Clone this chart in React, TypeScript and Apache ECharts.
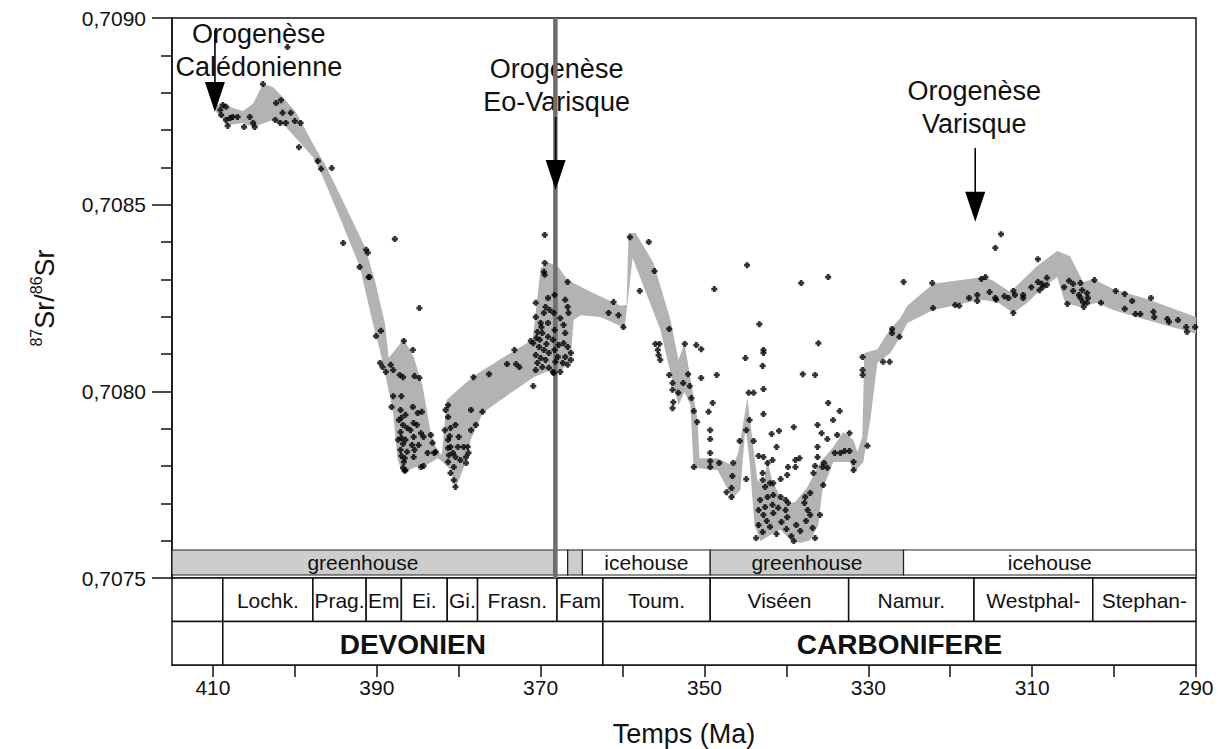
import React, { useEffect, useRef } from 'react';
import * as echarts from 'echarts';

const FONT = '"Liberation Sans", Arial, Helvetica, sans-serif';
const INK = '#111';

// Grey envelope of the 87Sr/86Sr curve: [age Ma, ratio]
const bandUpper: [number, number][] = [
  [409.63, 0.708767], [408.78, 0.70877], [407.56, 0.708759], [406.34, 0.708751], [405.12, 0.70877],
  [403.9, 0.708823], [402.68, 0.708815], [401.46, 0.708788], [399.88, 0.708748], [397.44, 0.708649],
  [396.22, 0.708604], [393.78, 0.708494], [391.46, 0.708387], [390.24, 0.708298], [389.02, 0.708183],
  [388.54, 0.708089], [386.71, 0.70814], [385.49, 0.708092], [384.39, 0.708012], [383.41, 0.707888],
  [382.56, 0.707838], [382.07, 0.70783], [381.46, 0.707977], [381.22, 0.707982], [378.17, 0.708041],
  [373.66, 0.708103], [370.98, 0.708138], [370.0, 0.70833], [369.15, 0.708346], [367.93, 0.708336],
  [366.71, 0.708298], [364.27, 0.708271], [361.83, 0.708245], [360.24, 0.708229], [359.51, 0.708231],
  [359.27, 0.708424], [358.41, 0.708424], [356.22, 0.708344], [354.15, 0.708191], [353.17, 0.708084],
  [352.44, 0.708129], [351.83, 0.708049], [350.85, 0.707923], [350.61, 0.707821], [348.41, 0.707821],
  [346.46, 0.7078], [345.85, 0.707838], [344.76, 0.707982], [344.15, 0.70787], [343.54, 0.707762],
  [342.8, 0.707749], [342.32, 0.707816], [341.71, 0.707757], [340.12, 0.707696], [338.9, 0.707704],
  [337.44, 0.707744], [335.85, 0.707811], [334.27, 0.707851], [333.05, 0.707891], [331.83, 0.70787],
  [331.34, 0.707838], [330.73, 0.707878], [330.49, 0.708103], [328.9, 0.708113], [327.32, 0.708167],
  [326.1, 0.708196], [325.24, 0.708229], [322.07, 0.708288], [315.98, 0.708306], [314.76, 0.708296],
  [312.68, 0.708266], [309.39, 0.708336], [306.95, 0.708376], [305.37, 0.708362], [303.78, 0.708293],
  [302.56, 0.708301], [300.12, 0.708274], [295.98, 0.708247], [290.0, 0.708199],
];
const bandLower: [number, number][] = [
  [409.63, 0.708748], [409.15, 0.708738], [408.41, 0.708713], [406.34, 0.708719], [405.12, 0.708708],
  [402.68, 0.708727], [401.1, 0.708708], [397.8, 0.708628], [396.95, 0.708593], [394.39, 0.708459],
  [392.07, 0.708333], [390.49, 0.708183], [389.63, 0.708111], [388.9, 0.708038], [388.05, 0.70795],
  [387.44, 0.707816], [386.83, 0.707781], [385.49, 0.707795], [383.78, 0.707805], [382.56, 0.707821],
  [382.07, 0.707813], [380.98, 0.707789], [380.37, 0.707741], [379.39, 0.707795], [378.54, 0.70787],
  [377.07, 0.707942], [374.88, 0.707977], [370.85, 0.708038], [369.15, 0.708054], [367.56, 0.708054],
  [366.34, 0.708084], [365.98, 0.708191], [365.12, 0.708204], [362.68, 0.708199], [360.24, 0.708175],
  [359.76, 0.708167], [358.78, 0.708357], [355.37, 0.708164], [354.15, 0.708049], [353.17, 0.707963],
  [352.44, 0.707998], [351.71, 0.707963], [351.34, 0.707795], [348.41, 0.707789], [347.44, 0.707749],
  [346.59, 0.707714], [345.61, 0.707736], [345.0, 0.707904], [344.51, 0.707816], [343.9, 0.707642],
  [343.17, 0.707599], [341.95, 0.707615], [340.73, 0.707629], [339.51, 0.707602], [338.29, 0.707594],
  [337.07, 0.707602], [336.1, 0.707642], [335.61, 0.707736], [334.27, 0.707811], [332.2, 0.707811],
  [331.83, 0.707781], [330.61, 0.707811], [329.76, 0.707923], [328.9, 0.708076], [327.32, 0.708103],
  [326.1, 0.708146], [325.24, 0.708183], [322.07, 0.708218], [316.34, 0.708245], [314.27, 0.708239],
  [312.32, 0.70821], [310.61, 0.708237], [309.02, 0.708271], [306.95, 0.708306], [305.98, 0.708237],
  [304.15, 0.708226], [302.07, 0.708237], [300.12, 0.708218], [295.98, 0.708191], [290.0, 0.708154],
];

// Individual measurements
const devonianPoints: [number, number][] = [
  [408.8, 0.708767], [409.1, 0.708754], [408.4, 0.708762], [409.0, 0.70874], [408.4, 0.708727],
  [407.9, 0.708732], [407.6, 0.708735], [407.0, 0.708735], [408.2, 0.708711], [406.2, 0.708708],
  [405.5, 0.708735], [405.1, 0.708719], [404.9, 0.708708], [403.9, 0.708823], [402.3, 0.708772],
  [401.7, 0.70878], [401.5, 0.708746], [400.5, 0.708746], [402.4, 0.708727], [401.8, 0.708719],
  [401.1, 0.708719], [400.0, 0.708724], [399.3, 0.708719], [399.5, 0.708654], [397.2, 0.708617],
  [396.8, 0.708596], [395.5, 0.708598], [394.1, 0.708397], [391.3, 0.708379], [391.1, 0.708371],
  [392.1, 0.708333], [391.0, 0.708306], [390.9, 0.708306], [387.8, 0.708408], [384.8, 0.708223],
  [390.1, 0.708148], [389.5, 0.708162], [389.6, 0.708076], [389.3, 0.708065], [388.9, 0.708052],
  [388.3, 0.708071], [388.0, 0.708057], [387.2, 0.708044], [386.8, 0.708038], [386.7, 0.708135],
  [385.6, 0.708111], [385.4, 0.708041], [384.8, 0.708036], [388.0, 0.707987], [387.0, 0.707987],
  [388.2, 0.707958], [385.6, 0.707958], [400.9, 0.708922],
  [387.1, 0.70795], [387.0, 0.707929], [386.8, 0.70791], [387.1, 0.707891], [387.0, 0.707875],
  [386.8, 0.707859], [387.1, 0.707843], [387.0, 0.707827], [386.7, 0.707811], [386.8, 0.707795],
  [386.6, 0.707787], [386.5, 0.707937], [386.3, 0.707902], [386.5, 0.70787], [386.3, 0.707838],
  [386.6, 0.707821], [385.0, 0.707942], [384.5, 0.707945], [385.5, 0.707915], [385.9, 0.707896],
  [385.5, 0.707878], [385.7, 0.707856], [385.4, 0.707843], [385.5, 0.707824], [384.6, 0.707888],
  [384.3, 0.707878], [384.9, 0.707856], [385.1, 0.70791], [383.4, 0.707883], [383.2, 0.707862],
  [383.8, 0.707835], [383.0, 0.707835], [382.8, 0.707838], [384.6, 0.707797], [384.3, 0.7078],
  [386.5, 0.707789], [387.3, 0.707923], [387.4, 0.70787],
  [381.3, 0.707963], [381.6, 0.70795], [381.3, 0.707931], [381.0, 0.707902], [380.4, 0.70791],
  [381.3, 0.70787], [381.3, 0.707848], [381.2, 0.707829], [381.3, 0.707811], [381.0, 0.707851],
  [380.7, 0.707835], [380.4, 0.707824], [380.1, 0.707851], [380.6, 0.707797], [381.0, 0.707781],
  [380.6, 0.707762], [380.4, 0.707744], [379.4, 0.707851], [379.1, 0.707824], [378.9, 0.707851],
  [378.8, 0.707835], [379.1, 0.707808], [378.5, 0.70795], [378.5, 0.707896], [377.9, 0.70791],
  [377.1, 0.707945], [378.2, 0.708038], [376.3, 0.708046], [374.1, 0.708073], [373.2, 0.708111],
  [373.0, 0.708073], [372.6, 0.708065], [370.9, 0.708014], [371.2, 0.708135], [381.7, 0.707896],
  [381.1, 0.70788], [380.0, 0.707878], [379.8, 0.707816],
  [369.5, 0.708419], [369.5, 0.708344], [369.6, 0.70832], [369.5, 0.708312], [370.6, 0.708237],
  [369.1, 0.70825], [369.4, 0.708226], [369.6, 0.70821], [370.6, 0.708199], [370.0, 0.708183],
  [369.1, 0.708183], [370.4, 0.708159], [369.8, 0.708156], [369.1, 0.708146], [370.9, 0.708129],
  [370.2, 0.708119], [369.6, 0.708111], [369.0, 0.708103], [370.6, 0.708097], [370.0, 0.708089],
  [369.4, 0.708084], [370.4, 0.708076], [369.8, 0.708065], [369.0, 0.708063], [370.6, 0.708057],
  [368.5, 0.708052], [368.4, 0.708049], [368.3, 0.708258], [368.3, 0.708164], [368.3, 0.708111],
  [368.2, 0.708079], [367.6, 0.708052], [366.7, 0.708293], [367.0, 0.708245], [366.7, 0.708226],
  [366.6, 0.70821], [367.2, 0.708178], [367.0, 0.708156], [367.2, 0.708129], [366.7, 0.708119],
  [366.3, 0.708103], [367.0, 0.708092], [366.3, 0.708084], [367.3, 0.708076], [366.7, 0.708071],
  [368.4, 0.70821], [368.5, 0.708138], [367.9, 0.708092], [361.1, 0.708239], [361.7, 0.70821],
  [360.5, 0.708204], [370.1, 0.708138], [369.3, 0.708127], [369.9, 0.708172], [368.9, 0.708218],
  [367.6, 0.708196], [367.8, 0.708124], [370.5, 0.708143],
];
const carboniferousPoints: [number, number][] = [
  [359.9, 0.708172], [359.1, 0.708413], [356.8, 0.7084], [356.1, 0.708322], [357.9, 0.708269],
  [354.3, 0.708167], [356.0, 0.708127], [355.5, 0.708127], [355.7, 0.708111], [355.6, 0.708097],
  [355.4, 0.708084], [354.3, 0.708044], [353.9, 0.708022], [353.9, 0.708004], [353.8, 0.707971],
  [353.9, 0.707955], [353.2, 0.707996], [352.6, 0.708022], [352.0, 0.708046], [352.4, 0.708127],
  [351.8, 0.708014], [351.6, 0.707982], [351.3, 0.707947], [350.9, 0.707918], [351.0, 0.708124],
  [350.4, 0.708113], [350.4, 0.708036], [348.5, 0.708044], [349.0, 0.707969], [349.5, 0.707945],
  [351.3, 0.707797], [349.3, 0.707896], [349.3, 0.707872], [349.3, 0.707835], [349.3, 0.707813],
  [349.3, 0.707797], [348.2, 0.707808], [346.5, 0.707808], [346.6, 0.707773], [346.7, 0.707741],
  [347.3, 0.70773], [346.7, 0.707717], [345.7, 0.707867], [344.9, 0.707896], [344.5, 0.707923],
  [344.6, 0.707996], [344.0, 0.707996], [344.0, 0.707867], [344.9, 0.707765], [348.8, 0.708274],
  [344.8, 0.708338], [343.3, 0.70818], [342.8, 0.708111], [342.8, 0.708103], [345.0, 0.708089],
  [342.9, 0.708068], [342.8, 0.708006], [342.8, 0.707939], [341.8, 0.707886], [340.9, 0.707894],
  [339.1, 0.707904], [341.2, 0.707851], [343.4, 0.707827], [342.8, 0.707824], [342.3, 0.707808],
  [341.7, 0.707816], [342.9, 0.707781], [342.9, 0.707762], [342.6, 0.707744], [342.0, 0.707754],
  [341.6, 0.707754], [340.7, 0.707765], [342.3, 0.707717], [341.6, 0.707722], [340.7, 0.707717],
  [340.1, 0.707709], [339.8, 0.707701], [342.6, 0.70769], [341.7, 0.707696], [341.0, 0.707688],
  [340.1, 0.707682], [343.4, 0.707682], [342.8, 0.707669], [341.6, 0.707674], [339.9, 0.707663],
  [338.9, 0.707816], [338.4, 0.707821], [338.9, 0.707797], [339.8, 0.707797], [339.9, 0.707776],
  [337.7, 0.707717], [337.1, 0.707728], [337.8, 0.707701], [337.4, 0.707682], [336.7, 0.707781],
  [336.5, 0.7078], [335.6, 0.707797], [335.0, 0.707795], [335.4, 0.707808], [336.2, 0.707824],
  [336.2, 0.707851], [336.2, 0.70791], [335.7, 0.707888], [335.0, 0.707872], [334.9, 0.707969],
  [333.5, 0.707947], [334.3, 0.707923], [333.8, 0.707883], [332.3, 0.707888], [334.1, 0.707835],
  [333.4, 0.707835], [332.9, 0.70784], [332.3, 0.70784], [335.5, 0.707749], [336.1, 0.708129],
  [338.0, 0.708046], [336.5, 0.708044], [338.2, 0.70829], [334.9, 0.708306], [331.8, 0.707811],
  [331.8, 0.707789], [330.1, 0.707854], [330.7, 0.708092], [330.7, 0.708057], [330.7, 0.708044],
  [328.2, 0.708079], [327.4, 0.708079], [327.1, 0.708167], [327.1, 0.708156], [326.2, 0.708146],
  [343.4, 0.707642], [342.9, 0.707623], [342.4, 0.707653], [342.0, 0.707637], [341.2, 0.707618],
  [340.6, 0.70765], [340.0, 0.707631], [339.4, 0.707612], [338.8, 0.707642], [338.3, 0.707626],
  [337.6, 0.707653], [336.8, 0.707634], [336.5, 0.707607], [343.7, 0.707607], [339.1, 0.707599],
  [335.9, 0.707669], [337.1, 0.707669], [343.2, 0.707709],
  [325.7, 0.708293], [322.2, 0.70829], [322.1, 0.708223], [319.4, 0.708231], [318.9, 0.708229],
  [317.7, 0.70825], [316.7, 0.708258], [316.7, 0.708242], [316.2, 0.708301], [315.7, 0.708306],
  [315.2, 0.708266], [314.5, 0.70825], [314.4, 0.708245], [313.4, 0.708255], [312.9, 0.70825],
  [312.3, 0.708269], [312.1, 0.708258], [312.3, 0.70821], [311.1, 0.708258], [311.1, 0.70825],
  [310.1, 0.708279], [309.3, 0.708354], [309.3, 0.708293], [309.1, 0.708271], [308.8, 0.708288],
  [308.7, 0.708279], [308.2, 0.708304], [308.2, 0.708285], [314.5, 0.708384], [313.8, 0.708421],
  [306.1, 0.708279], [305.5, 0.708296], [305.0, 0.708288], [305.0, 0.708269], [305.7, 0.708234],
  [304.1, 0.70829], [304.3, 0.708258], [304.1, 0.70825], [303.8, 0.708239], [303.7, 0.708226],
  [303.3, 0.708263], [303.2, 0.70825], [303.3, 0.708237], [303.9, 0.708271], [302.4, 0.708298],
  [301.6, 0.708237], [299.8, 0.708269], [298.7, 0.708261], [297.8, 0.708242], [298.7, 0.708221],
  [297.4, 0.708207], [296.8, 0.708207], [295.5, 0.70825], [295.2, 0.708213], [295.1, 0.708199],
  [293.5, 0.708194], [293.3, 0.708186], [292.2, 0.708191], [291.2, 0.708172], [291.1, 0.708159],
  [290.1, 0.708172],
];

// Axis ticks
const xLabelValues = [410, 390, 370, 350, 330, 310, 290];
const xTickValues = [410, 400, 390, 380, 370, 360, 350, 340, 330, 320, 310, 300, 290];

// Stratigraphy
const stageNames = ['', 'Lochk.', 'Prag.', 'Em', 'Ei.', 'Gi.', 'Frasn.', 'Fam', 'Toum.', 'Viséen', 'Namur.', 'Westphal-', 'Stephan-'];
const stageBounds = [415, 408.8, 397.8, 391.3, 387.0, 381.4, 377.7, 368.0, 362.4, 349.3, 332.4, 317.1, 302.6, 290];
const periodNames = ['', 'DEVONIEN', 'CARBONIFERE'];
const periodBounds = [415, 408.8, 362.4, 290];
const climateNames = ['greenhouse', '', '', 'icehouse', 'greenhouse', 'icehouse'];
const climateBounds = [415, 368.4, 366.7, 364.9, 349.3, 325.7, 290];
const climateGreenhouse = [true, false, true, false, true, false];
const climateBandRange = [0.707508, 0.707575];

// Orogenies
const orogenyLabels = ['Orogenèse\nCalédonienne', 'Orogenèse\nEo-Varisque', 'Orogenèse\nVarisque'];
const orogenyAges = [409.76, 368.17, 316.95];
const arrowStart = [0.708968, 0.708735, 0.708652];
const arrowTip = [0.708748, 0.708539, 0.708454];
const labelAges = [404.4, 368.05, 317.07];
const labelLevels = [0.708914, 0.708818, 0.708759];
const eoVariscanLine = [368.2, 0.709, 0.7075];

const PLUS = 'path://M1.6,0H4.4V1.6H6V4.4H4.4V6H1.6V4.4H0V1.6H1.6Z';

function rectFrom(a: number[], b: number[]) {
  return {
    x: Math.min(a[0], b[0]),
    y: Math.min(a[1], b[1]),
    width: Math.abs(b[0] - a[0]),
    height: Math.abs(b[1] - a[1]),
  };
}

export default function App() {
  const ref = useRef<HTMLDivElement>(null);

  useEffect(() => {
    if (!ref.current) return;
    const chart = echarts.init(ref.current, null, { renderer: 'svg' });

    const cellSeries = (
      names: string[],
      bounds: number[],
      rowLow: number,
      rowHigh: number,
      fontSize: number,
      bold: boolean,
    ) => ({
      type: 'custom',
      xAxisIndex: 1,
      yAxisIndex: 1,
      silent: true,
      z: 3,
      data: names.map((_, i) => [bounds[i], bounds[i + 1], rowLow, rowHigh]),
      renderItem: (params: any, api: any) => {
        const a = api.coord([api.value(0), api.value(3)]);
        const b = api.coord([api.value(1), api.value(2)]);
        const r = rectFrom(a, b);
        return {
          type: 'group',
          children: [
            { type: 'rect', shape: r, style: { fill: '#fff', stroke: INK, lineWidth: 1.5 } },
            {
              type: 'text',
              x: r.x + r.width / 2,
              y: r.y + r.height / 2 + 1,
              style: {
                text: names[params.dataIndex],
                fontSize,
                fontWeight: bold ? 'bold' : 'normal',
                fontFamily: FONT,
                fill: INK,
                align: 'center',
                verticalAlign: 'middle',
              },
            },
          ],
        };
      },
    });

    const option: any = {
      animation: false,
      backgroundColor: '#fff',
      grid: [
        { left: 172, right: 24, top: 18, height: 560, show: true, borderColor: INK, borderWidth: 1.5, backgroundColor: 'transparent' },
        { left: 172, right: 24, top: 578, height: 87, show: false },
      ],
      xAxis: [
        { type: 'value', gridIndex: 0, min: 290, max: 415, inverse: true, show: false },
        {
          type: 'value',
          gridIndex: 1,
          min: 290,
          max: 415,
          inverse: true,
          interval: 10,
          axisLine: { show: true, lineStyle: { color: INK, width: 1.5 } },
          axisTick: { show: true, length: 12, customValues: xTickValues, lineStyle: { color: INK, width: 1.5 } },
          axisLabel: {
            customValues: xLabelValues,
            fontSize: 21,
            fontFamily: FONT,
            color: INK,
            margin: 12,
            formatter: (v: number) => (v % 20 === 10 ? String(v) : ''),
          },
          splitLine: { show: false },
          name: 'Temps (Ma)',
          nameLocation: 'middle',
          nameGap: 55,
          nameTextStyle: { fontSize: 27, fontFamily: FONT, color: INK },
        },
      ],
      yAxis: [
        {
          type: 'value',
          gridIndex: 0,
          min: 0.7075,
          max: 0.709,
          interval: 0.0005,
          axisLine: { show: true, lineStyle: { color: INK, width: 1.5 } },
          axisTick: { show: true, length: 20, lineStyle: { color: INK, width: 1.5 } },
          minorTick: { show: true, splitNumber: 5, length: 11, lineStyle: { color: INK, width: 1.5 } },
          splitLine: { show: false },
          minorSplitLine: { show: false },
          axisLabel: {
            fontSize: 21,
            fontFamily: FONT,
            color: INK,
            margin: 26,
            formatter: (v: number) => v.toFixed(4).replace('.', ','),
          },
          name: '{sup|87}{main|Sr/}{sup|86}{main|Sr}',
          nameLocation: 'middle',
          nameGap: 114,
          nameRotate: 90,
          nameTextStyle: {
            fontFamily: FONT,
            color: INK,
            rich: {
              main: { fontSize: 27, fontFamily: FONT, color: INK, verticalAlign: 'bottom', lineHeight: 30 },
              sup: { fontSize: 16, fontFamily: FONT, color: INK, verticalAlign: 'top', lineHeight: 30 },
            },
          },
        },
        { type: 'value', gridIndex: 1, min: 0, max: 2, show: false },
      ],
      series: [
        {
          type: 'custom',
          name: 'envelope',
          xAxisIndex: 0,
          yAxisIndex: 0,
          silent: true,
          z: 1,
          data: [[350, 0.708]],
          renderItem: (_p: any, api: any) => {
            const pts = bandUpper.concat(bandLower.slice().reverse()).map((p) => api.coord(p));
            return { type: 'polygon', shape: { points: pts }, style: { fill: '#b3b3b3' } };
          },
        },
        {
          type: 'custom',
          name: 'climate',
          xAxisIndex: 0,
          yAxisIndex: 0,
          silent: true,
          z: 2,
          data: climateNames.map((_, i) => [climateBounds[i], climateBounds[i + 1], climateBandRange[0], climateBandRange[1]]),
          renderItem: (params: any, api: any) => {
            const a = api.coord([api.value(0), api.value(3)]);
            const b = api.coord([api.value(1), api.value(2)]);
            const r = rectFrom(a, b);
            return {
              type: 'group',
              children: [
                {
                  type: 'rect',
                  shape: r,
                  style: { fill: climateGreenhouse[params.dataIndex] ? '#cdcdcd' : '#fff', stroke: '#222', lineWidth: 1.2 },
                },
                {
                  type: 'text',
                  x: r.x + r.width / 2,
                  y: r.y + r.height / 2,
                  style: {
                    text: climateNames[params.dataIndex],
                    fontSize: 21,
                    fontFamily: FONT,
                    fill: INK,
                    align: 'center',
                    verticalAlign: 'middle',
                  },
                },
              ],
            };
          },
        },
        {
          type: 'custom',
          name: 'labels',
          xAxisIndex: 0,
          yAxisIndex: 0,
          silent: true,
          z: 3,
          data: orogenyLabels.map((_, i) => [labelAges[i], labelLevels[i]]),
          renderItem: (params: any, api: any) => {
            const p = api.coord([api.value(0), api.value(1)]);
            return {
              type: 'text',
              x: p[0],
              y: p[1],
              style: {
                text: orogenyLabels[params.dataIndex],
                fontSize: 27,
                fontFamily: FONT,
                fill: INK,
                align: 'center',
                verticalAlign: 'middle',
                lineHeight: 33,
              },
            };
          },
        },
        {
          type: 'custom',
          name: 'eo-varisque',
          xAxisIndex: 0,
          yAxisIndex: 0,
          silent: true,
          z: 4,
          data: [eoVariscanLine],
          renderItem: (_p: any, api: any) => {
            const a = api.coord([api.value(0), api.value(1)]);
            const b = api.coord([api.value(0), api.value(2)]);
            return { type: 'line', shape: { x1: a[0], y1: a[1], x2: b[0], y2: b[1] }, style: { stroke: '#6e6e6e', lineWidth: 4.5 } };
          },
        },
        {
          type: 'scatter',
          name: 'Sr',
          xAxisIndex: 0,
          yAxisIndex: 0,
          z: 5,
          silent: true,
          symbol: PLUS,
          symbolSize: 6,
          itemStyle: { color: '#000' },
          data: devonianPoints.concat(carboniferousPoints),
        },
        {
          type: 'custom',
          name: 'arrows',
          xAxisIndex: 0,
          yAxisIndex: 0,
          silent: true,
          z: 6,
          data: orogenyAges.map((a, i) => [a, arrowStart[i], arrowTip[i]]),
          renderItem: (_p: any, api: any) => {
            const s = api.coord([api.value(0), api.value(1)]);
            const t = api.coord([api.value(0), api.value(2)]);
            const hh = 30;
            const hw = 10;
            return {
              type: 'group',
              children: [
                { type: 'line', shape: { x1: s[0], y1: s[1], x2: t[0], y2: t[1] - hh + 2 }, style: { stroke: '#000', lineWidth: 1.6 } },
                {
                  type: 'polygon',
                  shape: { points: [[t[0] - hw, t[1] - hh], [t[0] + hw, t[1] - hh], [t[0], t[1]]] },
                  style: { fill: '#000' },
                },
              ],
            };
          },
        },
        cellSeries(stageNames, stageBounds, 1, 2, 21, false),
        cellSeries(periodNames, periodBounds, 0, 1, 28, true),
      ],
    };

    chart.setOption(option);
    return () => chart.dispose();
  }, []);

  return (
    <div
      ref={ref}
      style={{ position: 'fixed', left: 0, top: 0, width: 1220, height: 749, background: '#fff' }}
    />
  );
}
